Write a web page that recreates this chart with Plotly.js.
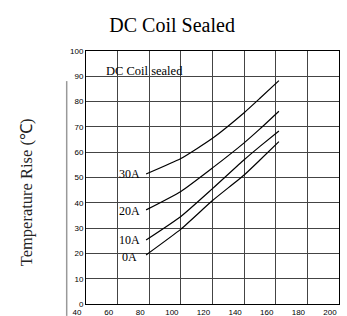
<!DOCTYPE html>
<html>
<head>
<meta charset="utf-8">
<script src="https://cdn.plot.ly/plotly-3.0.1.min.js"></script>
<style>html,body{margin:0;padding:0;background:#fff;}#chart{width:347px;height:316px;}</style>
</head>
<body>
<div id="chart"></div>
<script>
var currentX = [78, 100, 120, 140, 150, 162];
var rise30A = [51.4, 57.5, 65.5, 75.6, 81.3, 88.3];
var rise20A = [37.2, 44.5, 53.8, 63.7, 69.2, 76.2];
var rise10A = [25.3, 34.6, 45.6, 57.0, 62.3, 68.4];
var rise0A  = [19.4, 29.6, 40.9, 51.0, 56.9, 64.2];
var seriesNames = ["30A", "20A", "10A", "0A"];
var labelX = 67.8;
var labelY = [51.4, 36.8, 25.3, 18.6];
var xTicks = [40, 60, 80, 100, 120, 140, 160, 180, 200];
var yTicks = [0, 10, 20, 30, 40, 50, 60, 70, 80, 90, 100];

var allY = [rise30A, rise20A, rise10A, rise0A];
var traces = allY.map(function(ys, i) {
  return {x: currentX, y: ys, mode: "lines", name: seriesNames[i],
    line: {color: "#000", width: 1.2, shape: "spline", smoothing: 0.5},
    hoverinfo: "none", showlegend: false};
});

var annotations = seriesNames.map(function(n, i) {
  return {x: labelX, y: labelY[i], xref: "x", yref: "y", text: n, showarrow: false,
    font: {family: "Liberation Serif", size: 12, color: "#000"}, xanchor: "center", yanchor: "middle"};
});
annotations.push({x: 77, y: 92, xref: "x", yref: "y", text: "DC Coil sealed", showarrow: false,
  font: {family: "Liberation Serif", size: 12.5, color: "#000"}, xanchor: "center", yanchor: "middle"});
annotations.push({x: -0.235, y: 0.44, xref: "paper", yref: "paper", text: "Temperature Rise (℃)",
  textangle: -90, showarrow: false, font: {family: "Liberation Serif", size: 16.5, color: "#222"},
  xanchor: "center", yanchor: "middle"});

var layout = {
  width: 347, height: 316,
  margin: {l: 86, r: 8, t: 51, b: 12},
  paper_bgcolor: "#fff", plot_bgcolor: "#fff",
  title: {text: "DC Coil Sealed", font: {family: "Liberation Serif", size: 20, color: "#000"},
    x: 0.496, xref: "container", xanchor: "center", y: 0.921, yref: "container", yanchor: "middle"},
  xaxis: {range: [40, 200], tickvals: xTicks, ticktext: xTicks.map(String), showgrid: true,
    gridcolor: "#444", gridwidth: 1, showline: true, mirror: true, linecolor: "#000", linewidth: 1,
    zeroline: false, ticks: "", ticklabelshift: -9, ticklabelstandoff: 0,
    tickfont: {family: "Liberation Sans", size: 8, color: "#000"}, fixedrange: true},
  yaxis: {range: [0, 100], tickvals: yTicks, ticktext: yTicks.map(String), showgrid: true,
    gridcolor: "#444", gridwidth: 1, showline: true, mirror: true, linecolor: "#000", linewidth: 1,
    zeroline: false, ticks: "", tickfont: {family: "Liberation Sans", size: 8, color: "#000"}, fixedrange: true},
  shapes: [{type: "line", xref: "paper", yref: "paper", x0: -0.0763, x1: -0.0763, y0: -0.047, y1: 0.881,
    line: {color: "#999", width: 1.5}}],
  annotations: annotations
};
Plotly.newPlot("chart", traces, layout, {displayModeBar: false, staticPlot: true});
</script>
</body>
</html>
